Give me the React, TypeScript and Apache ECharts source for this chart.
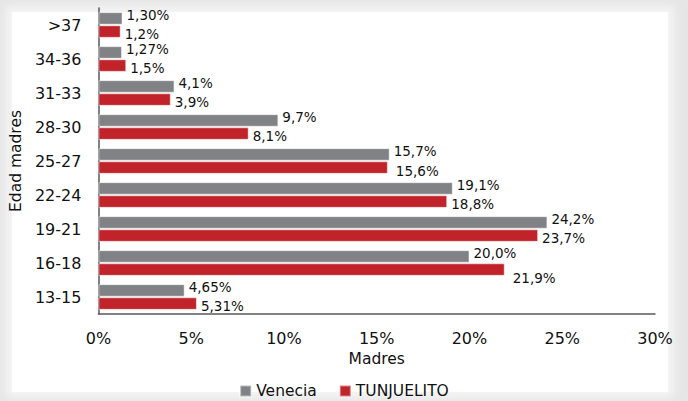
import React, { useEffect, useRef } from "react";
import * as echarts from "echarts";

const categories = ["13-15", "16-18", "19-21", "22-24", "25-27", "28-30", "31-33", "34-36", ">37"];
const veneciaValues = [4.65, 20.0, 24.2, 19.1, 15.7, 9.7, 4.1, 1.27, 1.3];
const veneciaLabels = ["4,65%", "20,0%", "24,2%", "19,1%", "15,7%", "9,7%", "4,1%", "1,27%", "1,30%"];
const tunjuelitoValues = [5.31, 21.9, 23.7, 18.8, 15.6, 8.1, 3.9, 1.5, 1.2];
const tunjuelitoLabels = ["5,31%", "21,9%", "23,7%", "18,8%", "15,6%", "8,1%", "3,9%", "1,5%", "1,2%"];
const xTicks = [0, 5, 10, 15, 20, 25, 30];

const FONT = "DejaVu Sans";
const TEXT = "#111111";

export default function App() {
  const ref = useRef<HTMLDivElement>(null);
  useEffect(() => {
    document.body.style.margin = "0";
    if (!ref.current) return;
    const chart = echarts.init(ref.current, null, { renderer: "svg" });
    const redNudge: Record<number, number[]> = { 1: [4, 6], 4: [4, 1] };
    chart.setOption({
      animation: false,
      textStyle: { fontFamily: FONT, color: TEXT },
      grid: { left: 97, right: 33, top: 8, bottom: 87, containLabel: false },
      legend: {
        data: ["Venecia", "TUNJUELITO"],
        top: 383,
        left: "center",
        padding: 0,
        icon: "rect",
        itemWidth: 11,
        itemHeight: 11,
        itemGap: 22,
        textStyle: { fontFamily: FONT, fontSize: 15.5, color: TEXT },
      },
      xAxis: {
        type: "value",
        min: 0,
        max: 30,
        interval: 5,
        name: "Madres",
        nameLocation: "middle",
        nameGap: 37,
        nameTextStyle: { fontFamily: FONT, fontSize: 15.5, color: TEXT },
        axisLine: { show: true, lineStyle: { color: "#595959", width: 1.5 } },
        axisTick: { show: false },
        splitLine: { show: false },
        axisLabel: {
          fontFamily: FONT,
          fontSize: 16,
          color: TEXT,
          margin: 16,
          formatter: (v: number) => (xTicks.includes(v) ? v + "%" : ""),
        },
      },
      yAxis: {
        type: "category",
        data: categories,
        name: "Edad madres",
        nameLocation: "middle",
        nameGap: 70,
        nameTextStyle: { fontFamily: FONT, fontSize: 15.5, color: TEXT },
        axisLine: { show: true, lineStyle: { color: "#595959", width: 1.5 } },
        axisTick: { show: false },
        axisLabel: { fontFamily: FONT, fontSize: 16, color: TEXT, margin: 17 },
      },
      series: [
        {
          name: "Venecia",
          type: "bar",
          data: veneciaValues,
          barWidth: 12.5,
          barGap: "5%",
          itemStyle: { color: "#818286", borderColor: "rgba(255,255,255,0.45)", borderWidth: 1 },
          label: {
            show: true,
            position: "right",
            distance: 4,
            offset: [0, -3],
            fontFamily: FONT,
            fontSize: 13.5,
            color: TEXT,
            formatter: (p: any) => veneciaLabels[p.dataIndex],
          },
        },
        {
          name: "TUNJUELITO",
          type: "bar",
          data: tunjuelitoValues.map((v, i) =>
            redNudge[i] ? { value: v, label: { offset: [redNudge[i][0], 2 + redNudge[i][1]] } } : v
          ),
          barWidth: 12.5,
          barGap: "5%",
          itemStyle: { color: "#c1232b", borderColor: "rgba(255,255,255,0.45)", borderWidth: 1 },
          label: {
            show: true,
            position: "right",
            distance: 4,
            offset: [0, 2],
            fontFamily: FONT,
            fontSize: 13.5,
            color: TEXT,
            formatter: (p: any) => tunjuelitoLabels[p.dataIndex],
          },
        },
      ],
    });
    return () => chart.dispose();
  }, []);
  return (
    <div style={{ position: "fixed", left: 0, top: 0, width: 688, height: 401, background: "#e6e6e6", overflow: "hidden" }}>
      <div
        style={{
          position: "absolute",
          left: 12,
          top: 12,
          width: 656,
          height: 380,
          background: "#ffffff",
          boxShadow: "0 0 8px 6px #f4f4f4",
        }}
      />
      <div ref={ref} style={{ position: "absolute", left: 0, top: 0, width: 688, height: 401 }} />
    </div>
  );
}
